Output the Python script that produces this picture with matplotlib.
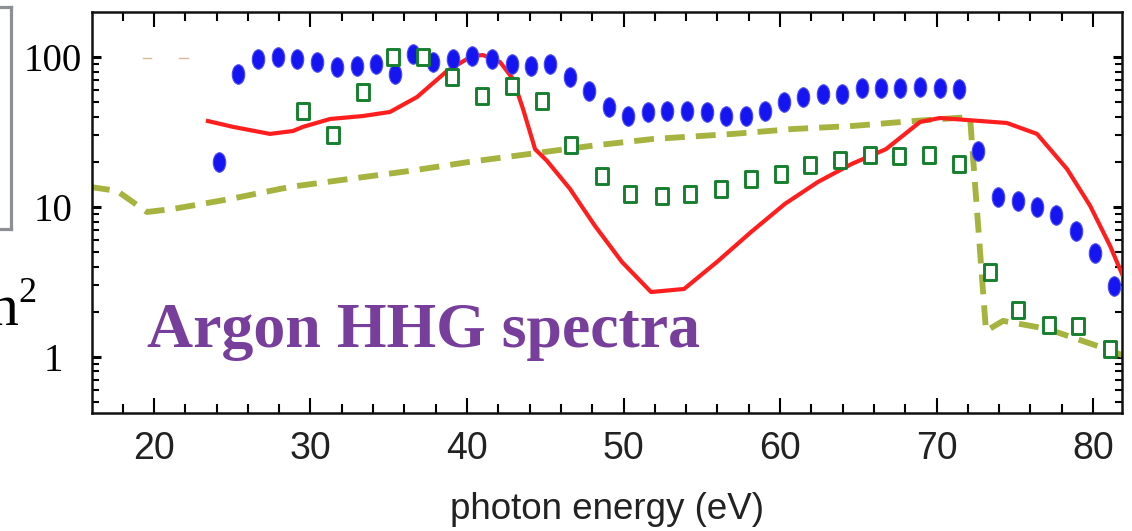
import matplotlib
matplotlib.use("Agg")
import matplotlib.pyplot as plt
from matplotlib.path import Path
from matplotlib.transforms import Affine2D
from matplotlib.lines import Line2D
from matplotlib.ticker import MultipleLocator, LogLocator, NullFormatter, FixedLocator

# ---------------- data ----------------
blue_energy = [24.15, 25.37, 26.65, 27.92, 29.14, 30.42, 31.69, 32.97, 34.19, 35.40,
               36.55, 37.83, 39.11, 40.32, 41.60, 42.88, 44.09, 45.30, 46.58, 47.80,
               49.07, 50.29, 51.57, 52.78, 54.06, 55.34, 56.55, 57.83, 59.04, 60.26,
               61.47, 62.75, 63.96, 65.24, 66.45, 67.67, 68.95, 70.22, 71.44, 72.65,
               73.93, 75.21, 76.42, 77.64, 78.91, 80.13, 81.34]
blue_intensity = [20.0, 77, 97, 100, 97, 92.6, 85.8, 87, 89.9, 77,
                  104.7, 92.6, 97, 101.6, 97, 90, 87, 90, 73.6, 59.3,
                  46.4, 40.4, 43, 43.7, 43.7, 43, 40.4, 40.4, 43.7, 50.1,
                  54.1, 56.7, 56.7, 62.1, 62.1, 62.1, 63.1, 62.1, 61.2, 23.6,
                  11.7, 11.0, 10.0, 8.85, 6.92, 4.9, 2.97]

green_energy = [29.52, 31.44, 33.35, 35.27, 37.19, 39.04, 40.96, 42.88, 44.79, 46.65,
                48.63, 50.42, 52.46, 54.25, 56.23, 58.15, 60.06, 61.92, 63.83, 65.75,
                67.60, 69.52, 71.44, 73.42, 75.21, 77.19, 79.04, 81.09]
green_intensity = [43.7, 30.2, 58.4, 100, 100, 73.6, 55, 64.1, 50.9, 25.9,
                   16.1, 12.2, 11.8, 12.2, 13.2, 15.4, 16.6, 19.1, 20.6, 22.2,
                   21.9, 22.2, 19.4, 3.69, 2.06, 1.63, 1.61, 1.13]

red_energy = [23.45, 25.05, 27.41, 28.88, 29.52, 31.25, 33.35, 35.08, 36.81, 38.72,
              40.32, 41.02, 42.11, 42.94, 43.58, 44.35, 45.11, 46.58, 48.18, 49.90,
              51.76, 53.87, 55.97, 58.15, 60.32, 62.43, 64.60, 66.77, 68.95, 70.22,
              71.95, 74.50, 76.42, 78.34, 79.81, 81.09, 81.85]
red_intensity = [37.4, 34.2, 30.7, 32.1, 34.2, 38.6, 40.4, 43.0, 54.1, 80.6,
                 101.6, 103, 92.6, 71.3, 45.0, 24.3, 20.3, 13.2, 7.47, 4.30,
                 2.71, 2.84, 4.30, 6.81, 10.5, 14.7, 19.4, 24.3, 36.9, 39.2,
                 38.0, 36.3, 30.7, 17.9, 10.2, 5.5, 3.58]

olive_energy = [15.91, 17.64, 19.55, 21.21, 24.86, 28.69, 32.52, 36.36, 40.19, 44.03,
                47.86, 51.88, 57.00, 60.83, 64.66, 68.50, 72.14, 73.16, 74.25, 77.06,
                80.32, 81.85]
olive_intensity = [13.6, 12.8, 9.26, 9.70, 11.3, 13.6, 15.4, 17.4, 20.0, 22.6,
                   25.5, 28.4, 30.7, 33.1, 34.7, 37.4, 39.8, 1.49, 1.74, 1.54,
                   1.18, 1.03]

x_major_ticks = [20, 30, 40, 50, 60, 70, 80]
y_major_ticks = [1, 10, 100]
y_tick_labels = ["1", "10", "100"]
x_label = "photon energy (eV)"
title_text = "Argon HHG spectra"

# ---------------- figure ----------------
W, H = 1132, 531
fig = plt.figure(figsize=(W / 100, H / 100), dpi=100)
ax = fig.add_axes([92 / W, 1 - 413 / H, (1122 - 92) / W, (413 - 12) / H])

ell = Path.unit_circle().transformed(Affine2D().scale(0.64, 1.0))
rect = Path([(-0.37, -0.5), (0.37, -0.5), (0.37, 0.5), (-0.37, 0.5), (-0.37, -0.5)],
            [Path.MOVETO, Path.LINETO, Path.LINETO, Path.LINETO, Path.CLOSEPOLY])

ax.plot(olive_energy, olive_intensity, color="#A6B33E", lw=4.2,
        ls=(0, (3.4, 1.9)), dash_capstyle="butt", zorder=2)
ax.plot(red_energy, red_intensity, color="#FF1E1E", lw=3.0, zorder=3,
        solid_joinstyle="round")
ax.plot(blue_energy, blue_intensity, ls="none", marker=ell, markersize=14,
        markerfacecolor="#1515F2", markeredgecolor="#4A4AF6", markeredgewidth=0.8,
        zorder=4)
ax.plot(green_energy, green_intensity, ls="none", marker=rect, markersize=11.3,
        markerfacecolor="white", markeredgecolor="#167F2E", markeredgewidth=2.1,
        zorder=5)

ax.set_yscale("log")
ax.set_xlim(16.04, 81.85)
ax.set_ylim(0.423, 199.5)

ax.xaxis.set_major_locator(FixedLocator(x_major_ticks))
ax.xaxis.set_minor_locator(MultipleLocator(2))
ax.yaxis.set_major_locator(FixedLocator(y_major_ticks))
ax.yaxis.set_minor_locator(LogLocator(base=10, subs=range(2, 10)))
ax.yaxis.set_minor_formatter(NullFormatter())

ax.set_xticklabels([str(t) for t in x_major_ticks], fontfamily="Liberation Sans",
                   fontsize=27, color="#222222")
ax.set_yticklabels(y_tick_labels, fontfamily="Liberation Serif", fontsize=28,
                   color="black", ha="center")

ax.tick_params(axis="x", which="major", direction="in", length=11, width=1.5,
               top=True, bottom=True, pad=13)
ax.tick_params(axis="x", which="minor", direction="in", length=6.5, width=1.5,
               top=True, bottom=True)
ax.tick_params(axis="y", which="major", direction="in", length=6.5, width=2.2,
               left=True, right=True, pad=28)
ax.tick_params(axis="y", which="minor", direction="in", length=5, width=1.5,
               left=True, right=True)

for s in ax.spines.values():
    s.set_linewidth(1.8)
    s.set_color("#111111")

ax.set_xlabel(x_label, fontfamily="Liberation Sans", fontsize=26.5, color="#222222",
              labelpad=18)

# title text inside the plot
fig.text(147 / W, 1 - 347 / H, title_text, fontfamily="Liberation Serif",
         fontweight="bold", fontsize=46, color="#773F9B", ha="left", va="baseline")

# fragments at the left edge (cropped neighbouring panel)
fig.text(18 / W, 1 - 325 / H, "n", fontfamily="Liberation Serif", fontsize=43,
         color="black", ha="right", va="baseline")
fig.text(18 / W, 1 - 302 / H, "2", fontfamily="Liberation Serif", fontsize=26,
         color="black", ha="left", va="baseline")
gray = "#8C8F94"
for xs, ys in [([0, 11], [7, 7]), ([11, 11], [7, 229]), ([0, 11], [229, 229])]:
    fig.add_artist(Line2D([x / W for x in xs], [1 - y / H for y in ys],
                          color=gray, lw=2.3, solid_capstyle="projecting"))
for x0, x1 in [(143, 151), (179, 188)]:
    fig.add_artist(Line2D([x0 / W, x1 / W], [1 - 58 / H, 1 - 58 / H],
                          color="#D9B89A", lw=1.0))

fig.savefig("out.png", dpi=100)
